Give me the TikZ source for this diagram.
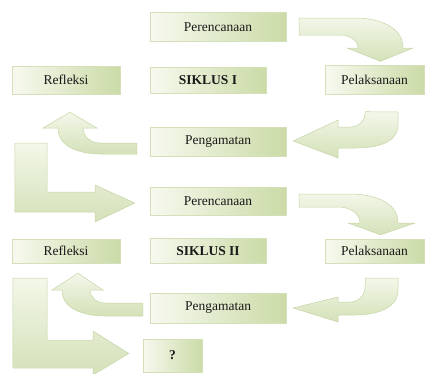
\documentclass[tikz,border=0pt]{standalone}
\usepackage{fontspec}
\setmainfont{Liberation Serif}
\usepackage{tikz}
\usetikzlibrary{positioning}
\definecolor{stagelight}{RGB}{247,249,239}
\definecolor{stagedark}{RGB}{203,219,167}
\definecolor{stageedge}{RGB}{212,224,186}
\definecolor{flowlight}{RGB}{243,247,233}
\definecolor{flowdark}{RGB}{212,225,184}
\definecolor{flowedge}{RGB}{198,213,166}

\begin{document}
\begin{tikzpicture}[x=1pt,y=1pt,font=\fontsize{13.5}{15}\selectfont,
stage/.style={draw=stageedge,line width=0.4pt,left color=stagelight,right color=stagedark,minimum width=136pt,minimum height=29pt,inner sep=0pt,text=black!90},
flow/.style={draw=flowedge,line width=0.5pt,top color=flowlight,bottom color=flowdark}]
\useasboundingbox (0,0) rectangle (426,-373);
% siklus I
\node[stage] (per1) at (218,-27) {Perencanaan};
\node[stage,minimum width=108pt,minimum height=28pt] (ref1) at (66,-80) {Refleksi};
\node[stage,minimum width=116pt,minimum height=26pt] [right of=ref1,node distance=142pt] (sik1) {\textbf{SIKLUS I}};
\node[stage,minimum width=99pt] [right of=sik1,node distance=166.5pt] (pel1) {Pelaksanaan};
\node[stage] (pen1) at (218,-142) {Pengamatan};
% siklus II
\node[stage,minimum height=28pt] (per2) at (218,-201) {Perencanaan};
\node[stage,minimum width=108pt,minimum height=24pt] (ref2) at (66,-251) {Refleksi};
\node[stage,minimum width=116pt,minimum height=25pt] [right of=ref2,node distance=142pt] (sik2) {\textbf{SIKLUS II}};
\node[stage,minimum width=99pt,minimum height=24pt] [right of=sik2,node distance=166.5pt] (pel2) {Pelaksanaan};
\node[stage,minimum height=30pt] (pen2) at (218,-308) {Pengamatan};
\node[stage,minimum width=59pt,minimum height=33pt] (q) at (172.5,-355.5) {\textbf{?}};
% panah siklus I
\path[flow] ([shift={(13pt,9pt)}]per1.east) -- (355,-18) to[out=0,in=90] (403,-48) -- (413,-48)
  -- ([shift={(6pt,4pt)}]pel1.north) -- (347,-48) -- (358,-48) to[out=90,in=0] (340,-35)
  -- ([shift={(13pt,-8pt)}]per1.east) -- cycle;
\path[flow] ([shift={(-9pt,-17pt)}]pel1.south) -- (398,-112) -- (398,-125) to[out=-90,in=0] (355,-148)
  -- (338,-148) -- (338,-158) -- ([shift={(7pt,1pt)}]pen1.east) -- (338,-120) -- (338,-127)
  -- (350,-127) to[out=0,in=-90] (365,-114) -- cycle;
\path[flow] ([shift={(-13pt,-1pt)}]pen1.west) -- (100,-143) to[out=180,in=-90] (83,-128) -- (97,-128)
  -- ([shift={(4pt,-18pt)}]ref1.south) -- (43,-128) -- (58,-128) to[out=-90,in=180] (100,-154)
  -- ([shift={(-13pt,-12pt)}]pen1.west) -- cycle;
\path[flow] ([shift={(3pt,-49pt)}]ref1.south west) -- (47,-143) -- (47,-192) -- (95,-192) -- (95,-185)
  -- ([shift={(-15pt,-2pt)}]per2.west) -- (95,-222) -- (95,-212) -- (15,-212) -- cycle;
% panah siklus II
\path[flow] ([shift={(13pt,7pt)}]per2.east) -- (350,-194) to[out=0,in=90] (398,-223) -- (415,-223)
  -- ([shift={(6pt,4pt)}]pel2.north) -- (348,-223) -- (360,-223) to[out=90,in=0] (338,-207)
  -- ([shift={(13pt,-6pt)}]per2.east) -- cycle;
\path[flow] ([shift={(-9pt,-15pt)}]pel2.south) -- (398,-278) -- (398,-290) to[out=-90,in=0] (355,-315)
  -- (338,-315) -- (338,-322) -- ([shift={(7pt,0pt)}]pen2.east) -- (338,-297) -- (338,-302)
  -- (350,-302) to[out=0,in=-90] (365,-287) -- cycle;
\path[flow] ([shift={(-7pt,5pt)}]pen2.west) -- (105,-303) to[out=180,in=-90] (90,-290) -- (103,-290)
  -- ([shift={(12pt,-10pt)}]ref2.south) -- (52,-290) -- (62,-290) to[out=-90,in=180] (105,-316)
  -- ([shift={(-7pt,-8pt)}]pen2.west) -- cycle;
\path[flow] ([shift={(1pt,-15pt)}]ref2.south west) -- (47,-278) -- (47,-340) -- (93,-340) -- (93,-331)
  -- ([shift={(-14pt,2pt)}]q.west) -- (93,-375) -- (93,-368) -- (13,-368) -- cycle;
\end{tikzpicture}
\end{document}
